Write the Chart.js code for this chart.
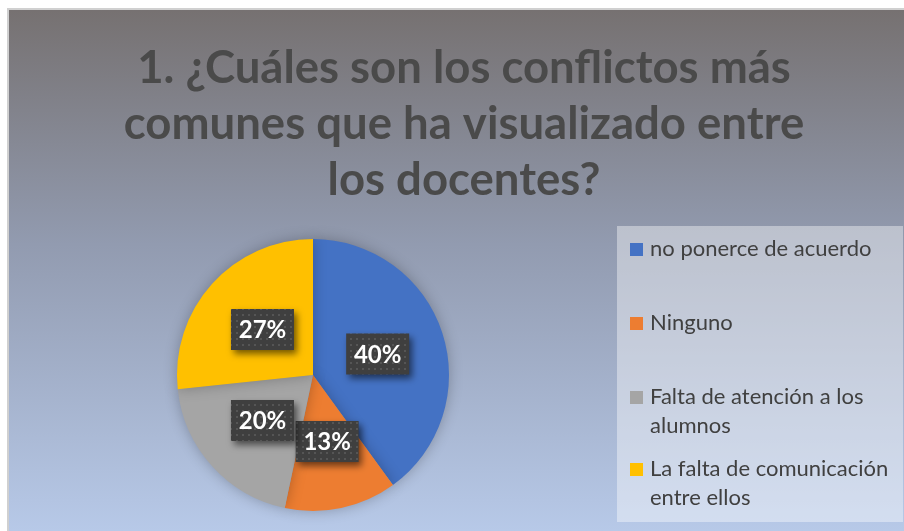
<!DOCTYPE html>
<html>
<head>
<meta charset="utf-8">
<script src="https://cdn.jsdelivr.net/npm/chart.js@4"></script>
<style>
  html, body { margin: 0; padding: 0; background: #fff; }
  #wrap { position: relative; width: 904px; height: 531px; }
</style>
</head>
<body>
<div id="wrap"><canvas id="chart"></canvas></div>
<script>
// Chart data
const labels = [
  'no ponerce de acuerdo',
  'Ninguno',
  'Falta de atención a los\nalumnos',
  'La falta de comunicación\nentre ellos',
];
const values = [6, 2, 3, 4];
const colors = ['#4472c4', '#ed7d31', '#a5a5a5', '#ffc000'];
const titleLines = [
  '1. ¿Cuáles son los conflictos más',
  'comunes que ha visualizado entre',
  'los docentes?',
];

const total = values.reduce((a, b) => a + b, 0);

// small dotted pattern for the label boxes
function dotPattern() {
  const c = document.createElement('canvas');
  c.width = 6; c.height = 6;
  const g = c.getContext('2d');
  g.fillStyle = '#3f3f3f';
  g.fillRect(0, 0, 6, 6);
  g.fillStyle = '#555555';
  g.fillRect(2, 2, 2, 2);
  return c;
}

// Background, frame and title
const backdrop = {
  id: 'backdrop',
  beforeDraw(chart) {
    const { ctx, width, height } = chart;
    ctx.save();
    ctx.fillStyle = '#ffffff';
    ctx.fillRect(0, 0, width, height);
    ctx.fillStyle = '#d0d0d0';
    ctx.fillRect(7, 8, width - 7, 2);
    ctx.fillRect(7, 8, 2, height - 8);
    const grad = ctx.createLinearGradient(0, 10, 0, height);
    grad.addColorStop(0, '#767171');
    grad.addColorStop(0.45, '#929bb0');
    grad.addColorStop(1, '#b7c9e8');
    ctx.fillStyle = grad;
    ctx.fillRect(9, 10, width - 9, height - 10);

    // title
    ctx.fillStyle = '#4a4a4a';
    ctx.font = 'bold 45.5px Lato';
    ctx.textAlign = 'center';
    ctx.textBaseline = 'middle';
    titleLines.forEach((line, i) => ctx.fillText(line, 464, 68 + i * 56));
    ctx.restore();
  },
  beforeDatasetsDraw(chart) {
    const ctx = chart.ctx;
    ctx.save();
    ctx.shadowColor = 'rgba(0,0,0,0.25)';
    ctx.shadowBlur = 14;
  },
  afterDatasetsDraw(chart) {
    chart.ctx.restore();
  },
};

// Legend panel on the right
const sideLegend = {
  id: 'sideLegend',
  afterDraw(chart) {
    const ctx = chart.ctx;
    ctx.save();
    ctx.fillStyle = 'rgba(255,255,255,0.4)';
    ctx.fillRect(617, 226, 286, 296);
    const rows = [249, 323, 397, 469];
    ctx.font = '22px Lato';
    ctx.textBaseline = 'middle';
    ctx.textAlign = 'left';
    labels.forEach((lab, i) => {
      ctx.fillStyle = colors[i];
      ctx.fillRect(630, rows[i] - 6, 13, 13);
      ctx.fillStyle = '#404040';
      lab.split('\n').forEach((ln, j) => ctx.fillText(ln, 650, rows[i] + j * 28.5));
    });
    ctx.restore();
  },
};

// Percent boxes on the slices
const pctLabels = {
  id: 'pctLabels',
  afterDatasetsDraw(chart) {
    const ctx = chart.ctx;
    const pat = ctx.createPattern(dotPattern(), 'repeat');
    const meta = chart.getDatasetMeta(0);
    meta.data.forEach((arc, i) => {
      const p = arc.tooltipPosition();
      const txt = Math.round(values[i] / total * 100) + '%';
      const w = 63, h = 41;
      ctx.save();
      ctx.shadowColor = 'rgba(0,0,0,0.55)';
      ctx.shadowBlur = 7;
      ctx.shadowOffsetX = 3;
      ctx.shadowOffsetY = 4;
      ctx.fillStyle = pat;
      ctx.fillRect(p.x - w / 2, p.y - h / 2, w, h);
      ctx.restore();
      ctx.save();
      ctx.fillStyle = '#ffffff';
      ctx.font = 'bold 24px Lato';
      ctx.textAlign = 'center';
      ctx.textBaseline = 'middle';
      ctx.fillText(txt, p.x, p.y + 1);
      ctx.restore();
    });
  },
};

new Chart(document.getElementById('chart'), {
  type: 'pie',
  data: {
    labels: labels.map((l) => l.replace('\n', ' ')),
    datasets: [{
      data: values,
      backgroundColor: colors,
      borderWidth: 0,
    }],
  },
  options: {
    responsive: true,
    maintainAspectRatio: false,
    animation: false,
    layout: { padding: { left: 177, right: 455, top: 239, bottom: 20 } },
    plugins: {
      legend: { display: false },
      title: { display: false },
      tooltip: { enabled: false },
    },
  },
  plugins: [backdrop, sideLegend, pctLabels],
});
</script>
</body>
</html>
